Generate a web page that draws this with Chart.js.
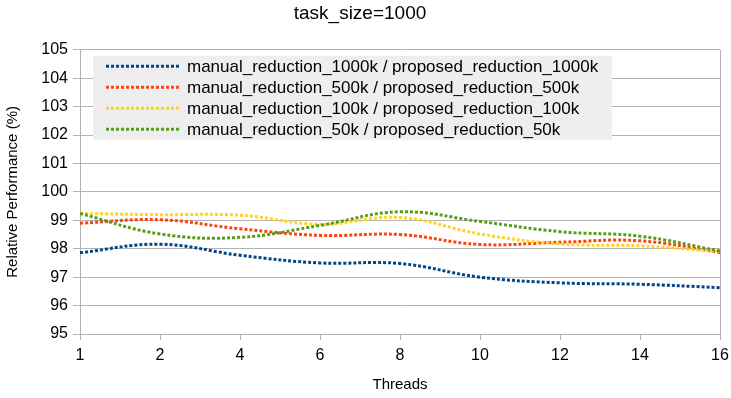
<!DOCTYPE html>
<html>
<head>
<meta charset="utf-8">
<script src="https://cdn.jsdelivr.net/npm/chart.js@4"></script>
<style>
  html, body { margin: 0; padding: 0; background: #fff; }
  canvas { display: block; }
</style>
</head>
<body>
<canvas id="chart" width="731" height="398"></canvas>
<script>
const threads = ['1', '2', '4', '6', '8', '10', '12', '14', '16'];

const ratio1000k = [97.86, 98.16, 97.77, 97.5, 97.48, 97.0, 96.8, 96.75, 96.63];
const ratio500k = [98.9, 99.02, 98.7, 98.47, 98.5, 98.15, 98.23, 98.28, 97.87];
const ratio100k = [99.24, 99.2, 99.18, 98.86, 99.1, 98.52, 98.17, 98.1, 97.9];
const ratio50k = [99.24, 98.52, 98.4, 98.82, 99.3, 98.96, 98.6, 98.44, 97.92];

const seriesNames = [
  'manual_reduction_1000k / proposed_reduction_1000k',
  'manual_reduction_500k / proposed_reduction_500k',
  'manual_reduction_100k / proposed_reduction_100k',
  'manual_reduction_50k / proposed_reduction_50k',
];
const seriesColors = ['#004586', '#ff420e', '#ffd320', '#579d1c'];
const seriesValues = [ratio1000k, ratio500k, ratio100k, ratio50k];

const FONT = '"Liberation Sans", Arial, sans-serif';
const GRID = '#b3b3b3';
const DASH = [3, 2];

// legend in a grey box inside the plot, top-left
const boxLegend = {
  id: 'boxLegend',
  afterDraw(chart) {
    const { ctx, chartArea } = chart;
    const x0 = chartArea.left + 13;
    const y0 = chartArea.top + 6;
    const w = 519;
    const rowH = 21;
    ctx.save();
    ctx.fillStyle = '#eeeeee';
    ctx.fillRect(x0, y0, w, 84);
    ctx.font = '17px ' + FONT;
    ctx.textBaseline = 'middle';
    chart.data.datasets.forEach((ds, i) => {
      const cy = y0 + 10.5 + i * rowH;
      ctx.strokeStyle = ds.borderColor;
      ctx.lineWidth = 3;
      ctx.setLineDash(DASH);
      ctx.beginPath();
      ctx.moveTo(x0 + 13, cy);
      ctx.lineTo(x0 + 86, cy);
      ctx.stroke();
      ctx.setLineDash([]);
      ctx.fillStyle = '#000';
      ctx.fillText(ds.label, x0 + 94, cy + 1);
    });
    ctx.restore();
  }
};

new Chart(document.getElementById('chart'), {
  type: 'line',
  data: {
    labels: threads,
    datasets: seriesValues.map((values, i) => ({
      label: seriesNames[i],
      data: values,
      borderColor: seriesColors[i],
      backgroundColor: seriesColors[i],
      borderWidth: 3,
      borderDash: DASH,
      pointRadius: 0,
      tension: 0.4,
      fill: false,
      order: seriesValues.length - i,
    })),
  },
  options: {
    responsive: false,
    animation: false,
    devicePixelRatio: 1,
    layout: { padding: { left: 0, right: 11, top: 0, bottom: 0 } },
    plugins: {
      legend: { display: false },
      tooltip: { enabled: false },
      title: {
        display: true,
        text: 'task_size=1000',
        color: '#000',
        font: { family: FONT, size: 19, weight: 'normal' },
        padding: { top: 2, bottom: 25 },
      },
    },
    scales: {
      x: {
        afterFit: (scale) => {
          scale.height = 64;
          scale.paddingLeft = 0;
          scale.paddingRight = 0;
        },
        grid: {
          color: (c) => (c.index === threads.length - 1 ? GRID : 'rgba(0,0,0,0)'),
          tickColor: GRID,
          tickLength: 6,
        },
        border: { color: GRID },
        ticks: { color: '#000', font: { family: FONT, size: 16 }, padding: 6, maxRotation: 0 },
        title: {
          display: true,
          text: 'Threads',
          color: '#000',
          font: { family: FONT, size: 15 },
          padding: { top: 0, bottom: 4 },
        },
      },
      y: {
        min: 95,
        max: 105,
        afterFit: (scale) => { scale.width = 80; },
        grid: { color: GRID, tickColor: GRID, tickLength: 7 },
        border: { color: GRID },
        ticks: { stepSize: 1, color: '#000', font: { family: FONT, size: 16 }, padding: 5 },
        title: {
          display: true,
          text: 'Relative Performance (%)',
          color: '#000',
          font: { family: FONT, size: 15 },
          padding: { top: 4, bottom: 0 },
        },
      },
    },
  },
  plugins: [boxLegend],
});
</script>
</body>
</html>
